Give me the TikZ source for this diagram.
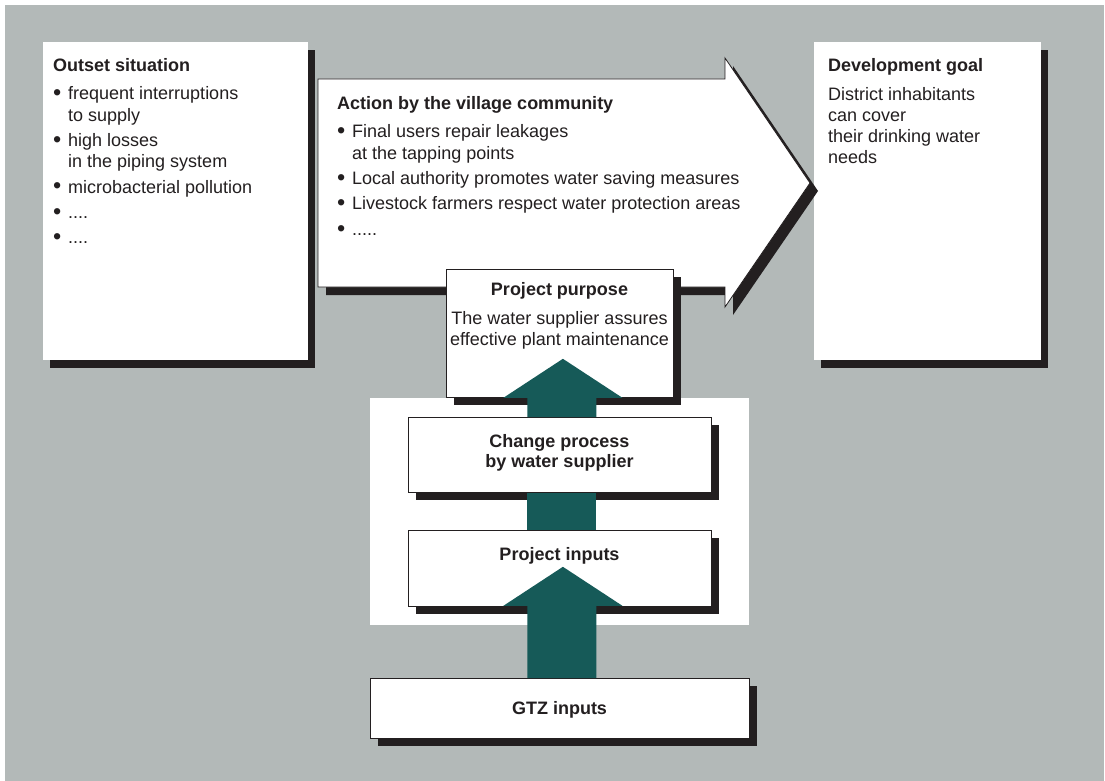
\documentclass[tikz,border=0pt]{standalone}
\usepackage{fontspec}
\usepackage{graphicx}
\setmainfont{Liberation Sans}
\usetikzlibrary{shadows,calc}
\definecolor{bg}{HTML}{B3B9B8}
\definecolor{ink}{HTML}{231F20}
\definecolor{gtzgreen}{HTML}{165A58}
\newcommand\bul{\makebox[15pt][l]{\raisebox{-0.6pt}{\scalebox{1.3}{•}}}}
\begin{document}
\begin{tikzpicture}[x=1pt,y=-1pt,
  txt/.style={inner sep=0pt, text=ink, font=\fontsize{18}{21}\selectfont},
  plainbox/.style={rectangle, inner sep=0pt, fill=white, anchor=north west,
    drop shadow={shadow xshift=7pt, shadow yshift=-8pt, fill=ink, opacity=1}},
  framedbox/.style={rectangle, inner sep=0pt, fill=white, draw=ink, line width=0.8pt, anchor=north west,
    drop shadow={shadow xshift=8pt, shadow yshift=-8pt, fill=ink, opacity=1}},
  flow/.style={fill=gtzgreen}]
\useasboundingbox (0,0) rectangle (1105,781);
\fill[bg] (5,5) rectangle (1104,781);

% outset and goal boxes
\node[plainbox, minimum width=265pt, minimum height=318pt] (out) at (43,42) {};
\node[plainbox, minimum width=227pt, minimum height=318pt] (goal) at (814,42) {};

% action arrow
\fill[ink] (326,87) -- (733,87) -- (733,66) -- (818,191) -- (733,315) -- (733,295) -- (326,295) -- cycle;
\draw[ink, fill=white, line width=0.8pt] (318,79) -- (725,79) -- (725,58) -- (810,183) -- (725,307) -- (725,287) -- (318,287) -- cycle;

% white panel
\fill[white] (370,398) rectangle (749,625);

% column boxes
\node[framedbox, minimum width=227pt, minimum height=128pt] (pp) at (446,269) {};
\node[framedbox, minimum width=303pt, minimum height=75pt] (chg) at (408,417) {};
\node[framedbox, minimum width=303pt, minimum height=76pt] (pin) at (408,530) {};
\node[framedbox, minimum width=379pt, minimum height=60pt] (gtz) at (370,678) {};

% green arrows
\fill[flow] ($(gtz.north)+(-32.5,0)$) -- ($(pin.south)+(-32.5,-1)$) -- ($(pin.south)+(-56.5,-1)$)
  -- ($(pin.south)+(3,-40)$) -- ($(pin.south)+(62.5,-1)$) -- ($(pin.south)+(36.5,-1)$)
  -- ($(gtz.north)+(36.5,0)$) -- cycle;
\fill[flow] ($(pin.north)+(-32.5,0)$) rectangle ($(chg.south)+(36.5,0)$);
\fill[flow] ($(chg.north)+(-32.5,0)$) -- ($(pp.south)+(-32.5,0)$) -- ($(pp.south)+(-56.5,0)$)
  -- ($(pp.south)+(3,-39)$) -- ($(pp.south)+(62.5,0)$) -- ($(pp.south)+(36.5,0)$)
  -- ($(chg.north)+(36.5,0)$) -- cycle;

% texts
\node[txt, anchor=base west] (outh) at (53,72) {\bfseries Outset situation};
\node[txt, anchor=base west] (outl) at (53,100) {\begin{tabular}[t]{@{}l@{}l@{}}
\bul & frequent interruptions\\ & to supply\\[4.5pt]
\bul & high losses\\ & in the piping system\\[4.5pt]
\bul & microbacterial pollution\\[4.5pt]
\bul & ....\\[4.5pt]
\bul & ....
\end{tabular}};

\node[txt, anchor=base west] (acth) at (337,110) {\bfseries Action by the village community};
\node[txt, anchor=base west] (actl) at (337,138) {\begin{tabular}[t]{@{}l@{}l@{}}
\bul & Final users repair leakages\\ & at the tapping points\\[4.5pt]
\bul & Local authority promotes water saving measures\\[4.5pt]
\bul & Livestock farmers respect water protection areas\\[4.5pt]
\bul & .....
\end{tabular}};

\node[txt, anchor=base west] (goalh) at (828,72) {\bfseries Development goal};
\node[txt, anchor=base west] (goall) at (828,101) {\begin{tabular}[t]{@{}l@{}}
District inhabitants\\ can cover\\ their drinking water\\ needs
\end{tabular}};

\node[txt, anchor=base] (pph) at (559.5,295) {\bfseries Project purpose};
\node[txt, anchor=base] (ppl) at (559.5,324) {\begin{tabular}[t]{@{}c@{}}
The water supplier assures\\ effective plant maintenance
\end{tabular}};
\node[txt, anchor=base] (chgt) at (559.5,447) {\bfseries\begin{tabular}[t]{@{}c@{}}
Change process\\[-1pt] by water supplier
\end{tabular}};
\node[txt, anchor=base] (pint) at (559.5,560) {\bfseries Project inputs};
\node[txt, anchor=base] (gtzt) at (559.5,714) {\bfseries GTZ inputs};
\end{tikzpicture}
\end{document}
